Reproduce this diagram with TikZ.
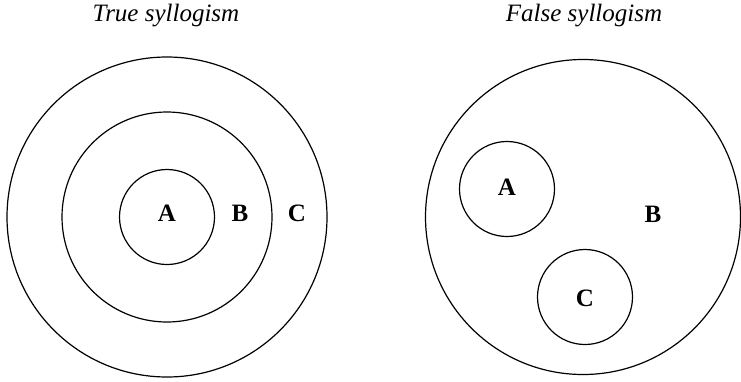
\documentclass[tikz,border=0pt]{standalone}
\usepackage{fontspec}
\setmainfont{Liberation Serif}
\begin{document}
\begin{tikzpicture}[x=1pt,y=-1pt,
  ring/.style={draw,circle,line width=1.2pt,inner sep=0pt},
  lbl/.style={font=\fontsize{25}{30}\selectfont\bfseries,inner sep=0pt},
  ttl/.style={font=\fontsize{25}{30}\selectfont\itshape,inner sep=0pt}]
\useasboundingbox (0,0) rectangle (741,381);
% True syllogism
\node[ttl] (t1) at (166,16) {True syllogism};
\node[ring,minimum size=320pt] (c1) at (167,217) {};
\node[ring,minimum size=210pt] (b1) at (167,217) {};
\node[ring,minimum size=95pt] (a1) at (167,217) {};
\node[lbl] (la1) at (167,213) {A};
\node[lbl] (lb1) at (240,213) {B};
\node[lbl] (lc1) at (297,213) {C};
% False syllogism
\node[ttl] (t2) at (584,16) {False syllogism};
\node[ring,minimum size=315pt] (b2) at (583,217) {};
\node[ring,minimum size=95pt] (a2) at (507,189) {};
\node[ring,minimum size=95pt] (c2) at (585,297) {};
\node[lbl] (la2) at (507,187) {A};
\node[lbl] (lb2) at (653,214) {B};
\node[lbl] (lc2) at (585,298) {C};
\end{tikzpicture}
\end{document}
